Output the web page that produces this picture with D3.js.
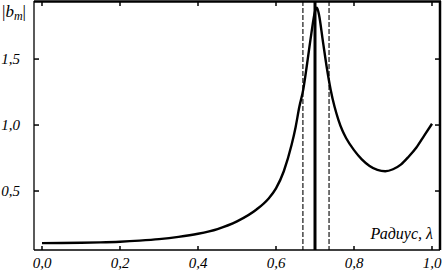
<!DOCTYPE html>
<html>
<head>
<meta charset="utf-8">
<script src="https://cdn.jsdelivr.net/npm/d3@7"></script>
<style>
  body { margin: 0; background: #fff; }
</style>
</head>
<body>
<div id="chart"></div>
<script>
// radius lambda and |b_m|
const lambda = [0, 0.05, 0.1, 0.15, 0.2, 0.25, 0.3, 0.35, 0.4, 0.45, 0.5, 0.55, 0.58, 0.6, 0.62, 0.64, 0.65, 0.66, 0.67, 0.68, 0.69, 0.70, 0.705, 0.71, 0.72, 0.73, 0.74, 0.75, 0.76, 0.77, 0.78, 0.80, 0.82, 0.84, 0.86, 0.88, 0.90, 0.92, 0.94, 0.96, 0.98, 1.0];
const bm = [0.105, 0.106, 0.108, 0.111, 0.116, 0.124, 0.135, 0.152, 0.176, 0.212, 0.27, 0.36, 0.44, 0.52, 0.65, 0.85, 0.98, 1.14, 1.27, 1.47, 1.68, 1.86, 1.89, 1.84, 1.64, 1.44, 1.27, 1.14, 1.04, 0.96, 0.90, 0.81, 0.74, 0.69, 0.66, 0.65, 0.665, 0.70, 0.76, 0.83, 0.92, 1.01];
const xTicks = [0, 0.2, 0.4, 0.6, 0.8, 1.0];
const yTicks = [0.5, 1.0, 1.5];
const dashedLines = [0.669, 0.736];
const solidLine = 0.70;

const W = 442, H = 276;
const pLeft = 34, pRight = 440, pTop = 1, pBottom = 250;
const serif = "Liberation Serif";

const svg = d3.select("#chart").append("svg")
  .attr("width", W).attr("height", H)
  .attr("font-family", serif).attr("font-style", "italic");

const x = d3.scaleLinear().domain([0, 1]).range([42, 432]);
const y = d3.scaleLinear().domain([0.053, 1.94]).range([pBottom, pTop]);

const fmt = d => d3.format(".1f")(d).replace(".", ",");

// ticks, all pointing inward
xTicks.forEach(t => {
  svg.append("line").attr("x1", x(t)).attr("x2", x(t)).attr("y1", pBottom).attr("y2", pBottom - 4)
    .attr("stroke", "#000").attr("stroke-width", 1.5);
  svg.append("line").attr("x1", x(t)).attr("x2", x(t)).attr("y1", pTop).attr("y2", pTop + 5)
    .attr("stroke", "#000").attr("stroke-width", 1.5);
  svg.append("text").attr("x", x(t)).attr("y", 268)
    .attr("text-anchor", "middle").attr("font-size", 15).text(fmt(t));
});
yTicks.forEach(t => {
  svg.append("line").attr("x1", pLeft).attr("x2", pLeft + 5).attr("y1", y(t)).attr("y2", y(t))
    .attr("stroke", "#000").attr("stroke-width", 1.5);
  svg.append("line").attr("x1", pRight).attr("x2", pRight - 5).attr("y1", y(t)).attr("y2", y(t))
    .attr("stroke", "#000").attr("stroke-width", 1.5);
  svg.append("text").attr("x", 20).attr("y", y(t) + 5)
    .attr("text-anchor", "end").attr("font-size", 15).text(fmt(t));
});

// frame
svg.append("line").attr("x1", pLeft).attr("x2", pLeft).attr("y1", pTop).attr("y2", pBottom)
  .attr("stroke", "#000").attr("stroke-width", 1.3);
svg.append("line").attr("x1", pLeft).attr("x2", pRight).attr("y1", pBottom).attr("y2", pBottom)
  .attr("stroke", "#000").attr("stroke-width", 1.3);
svg.append("line").attr("x1", pLeft).attr("x2", pRight + 1).attr("y1", pTop + 0.5).attr("y2", pTop + 0.5)
  .attr("stroke", "#000").attr("stroke-width", 2.5);
svg.append("line").attr("x1", pRight).attr("x2", pRight).attr("y1", pTop).attr("y2", pBottom)
  .attr("stroke", "#000").attr("stroke-width", 2.5);

// vertical marks
dashedLines.forEach(v => {
  svg.append("line").attr("x1", x(v)).attr("x2", x(v)).attr("y1", pTop).attr("y2", pBottom)
    .attr("stroke", "#000").attr("stroke-width", 1.1).attr("stroke-dasharray", "5,2");
});
svg.append("line").attr("x1", x(solidLine)).attr("x2", x(solidLine)).attr("y1", pTop).attr("y2", pBottom)
  .attr("stroke", "#000").attr("stroke-width", 3);

// curve
const pts = lambda.map((l, i) => [l, bm[i]]);
const line = d3.line().x(d => x(d[0])).y(d => y(d[1])).curve(d3.curveMonotoneX);
svg.append("path").attr("d", line(pts))
  .attr("fill", "none").attr("stroke", "#000").attr("stroke-width", 2.4);

// labels
const yl = svg.append("text").attr("x", 2).attr("y", 17).attr("font-size", 17);
yl.append("tspan").attr("font-style", "normal").text("|");
yl.append("tspan").text("b");
yl.append("tspan").attr("dy", 3).attr("font-size", 12).text("m");
yl.append("tspan").attr("dy", -3).attr("font-style", "normal").text("|");

svg.append("text").attr("x", 433).attr("y", 239).attr("text-anchor", "end")
  .attr("font-size", 16).text("Радиус, λ");
</script>
</body>
</html>
